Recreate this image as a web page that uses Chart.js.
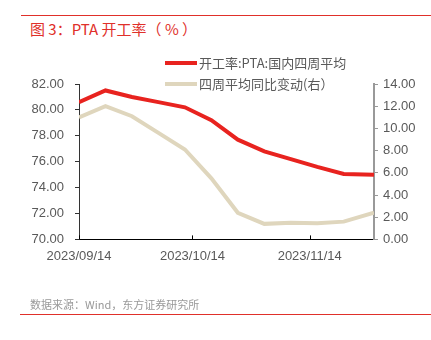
<!DOCTYPE html>
<html>
<head>
<meta charset="utf-8">
<script src="https://cdn.jsdelivr.net/npm/chart.js@4.4.0/dist/chart.umd.min.js"></script>
<style>
  html, body { margin: 0; padding: 0; background: #fff; }
  body { width: 431px; height: 340px; position: relative; overflow: hidden; font-family: "Noto Sans CJK SC", "Liberation Sans", sans-serif; }
  #topRule { position: absolute; left: 21px; top: 15px; width: 410px; height: 1px; background: #e0302a; }
  #title { position: absolute; left: 30px; top: 19px; font-size: 15px; color: #e0302a; line-height: 19px; }
  #source { position: absolute; left: 30px; top: 296px; font-size: 11px; color: #999; line-height: 16px; }
  #bottomRule { position: absolute; left: 20px; top: 314px; width: 411px; height: 1px; background: #e0302a; }
  #wrap { position: absolute; left: 0; top: 0; width: 431px; height: 340px; }
</style>
</head>
<body>
<div id="topRule"></div>
<div id="title">图 3：PTA 开工率（ % ）</div>
<div id="wrap"><canvas id="pta"></canvas></div>
<div id="source">数据来源：Wind，东方证券研究所</div>
<div id="bottomRule"></div>
<script>
// weekly data
var dates = ['2023-09-14', '2023-09-21', '2023-09-28', '2023-10-05', '2023-10-12', '2023-10-19',
             '2023-10-26', '2023-11-02', '2023-11-09', '2023-11-16', '2023-11-23', '2023-12-01']
var rate = [80.6, 81.5, 81.0, 80.6, 80.2, 79.2, 77.7, 76.8, 76.2, 75.6, 75.05, 75.0]
var yoy = [11.0, 12.0, 11.1, 9.6, 8.1, 5.5, 2.4, 1.4, 1.5, 1.45, 1.6, 2.4]
var names = ['开工率:PTA:国内四周平均', '四周平均同比变动(右）']
var xTickDates = ['2023-09-14', '2023-10-14', '2023-11-14']
var leftTicks = [70, 72, 74, 76, 78, 80, 82]
var rightTicks = [0, 2, 4, 6, 8, 10, 12, 14]

var colors = ['#e8231f', '#dfd6bd']
var textColor = '#595959'
var dayMs = 86400000
var start = Date.parse(dates[0])
function dayOf(d) { return Math.round((Date.parse(d) - start) / dayMs) }
function labelOf(v) {
    var d = new Date(start + v * dayMs)
    var m = d.getUTCMonth() + 1, dd = d.getUTCDate()
    return d.getUTCFullYear() + '/' + (m < 10 ? '0' : '') + m + '/' + (dd < 10 ? '0' : '') + dd
}

// legend drawn at fixed spot, overlapping the plot top like the original
var legendPlugin = {
    id: 'fixedLegend',
    afterDraw: function (chart) {
        var ctx = chart.ctx
        ctx.save()
        ctx.font = '13px "Noto Sans CJK SC", "Liberation Sans", sans-serif'
        ctx.textBaseline = 'middle'
        chart.data.datasets.forEach(function (ds, i) {
            var y = 63 + i * 21
            ctx.strokeStyle = ds.borderColor
            ctx.lineWidth = 4
            ctx.beginPath()
            ctx.moveTo(165, y)
            ctx.lineTo(197, y)
            ctx.stroke()
            ctx.fillStyle = textColor
            ctx.fillText(ds.label, 199, y)
        })
        // x ticks point into the plot
        var xs = chart.scales.x, area = chart.chartArea
        ctx.strokeStyle = '#000'
        ctx.lineWidth = 1
        xs.ticks.forEach(function (t) {
            var px = Math.round(xs.getPixelForValue(t.value)) + 0.5
            ctx.beginPath()
            ctx.moveTo(px, area.bottom)
            ctx.lineTo(px, area.bottom - 4)
            ctx.stroke()
        })
        ctx.restore()
    }
}

new Chart(document.getElementById('pta').getContext('2d'), {
    type: 'line',
    data: {
        datasets: [
            {
                label: names[0],
                data: dates.map(function (d, i) { return { x: dayOf(d), y: rate[i] } }),
                borderColor: colors[0],
                backgroundColor: colors[0],
                borderWidth: 4,
                pointRadius: 0,
                tension: 0,
                yAxisID: 'y'
            },
            {
                label: names[1],
                data: dates.map(function (d, i) { return { x: dayOf(d), y: yoy[i] } }),
                borderColor: colors[1],
                backgroundColor: colors[1],
                borderWidth: 4,
                pointRadius: 0,
                tension: 0,
                yAxisID: 'y1'
            }
        ]
    },
    options: {
        responsive: true,
        maintainAspectRatio: false,
        animation: false,
        layout: { padding: { left: 0, right: 0, top: 84, bottom: 75 } },
        plugins: { legend: { display: false }, tooltip: { enabled: false } },
        scales: {
            x: {
                type: 'linear',
                min: 0,
                max: 78,
                afterBuildTicks: function (s) { s.ticks = xTickDates.map(function (d) { return { value: dayOf(d) } }) },
                ticks: {
                    color: textColor,
                    font: { size: 13, family: '"Liberation Sans", sans-serif' },
                    padding: 1,
                    maxRotation: 0,
                    callback: function (v) { return labelOf(v) }
                },
                grid: { display: false },
                border: { display: true, color: '#000', width: 1 }
            },
            y: {
                position: 'left',
                min: 70,
                max: 82,
                afterBuildTicks: function (s) { s.ticks = leftTicks.map(function (v) { return { value: v } }) },
                afterFit: function (s) { s.width = 79 },
                ticks: {
                    color: textColor,
                    font: { size: 13, family: '"Liberation Sans", sans-serif' },
                    padding: 11,
                    callback: function (v) { return v.toFixed(2) }
                },
                grid: { drawOnChartArea: false, drawTicks: true, tickLength: 4, color: '#333' },
                border: { display: true, color: '#333', width: 1 }
            },
            y1: {
                position: 'right',
                min: 0,
                max: 14,
                afterBuildTicks: function (s) { s.ticks = rightTicks.map(function (v) { return { value: v } }) },
                afterFit: function (s) { s.width = 57 },
                ticks: {
                    color: textColor,
                    font: { size: 13, family: '"Liberation Sans", sans-serif' },
                    padding: 5,
                    callback: function (v) { return v.toFixed(2) }
                },
                grid: { drawOnChartArea: false, drawTicks: true, tickLength: 4, color: '#999' },
                border: { display: true, color: '#999', width: 2 }
            }
        }
    },
    plugins: [legendPlugin]
})
</script>
</body>
</html>
